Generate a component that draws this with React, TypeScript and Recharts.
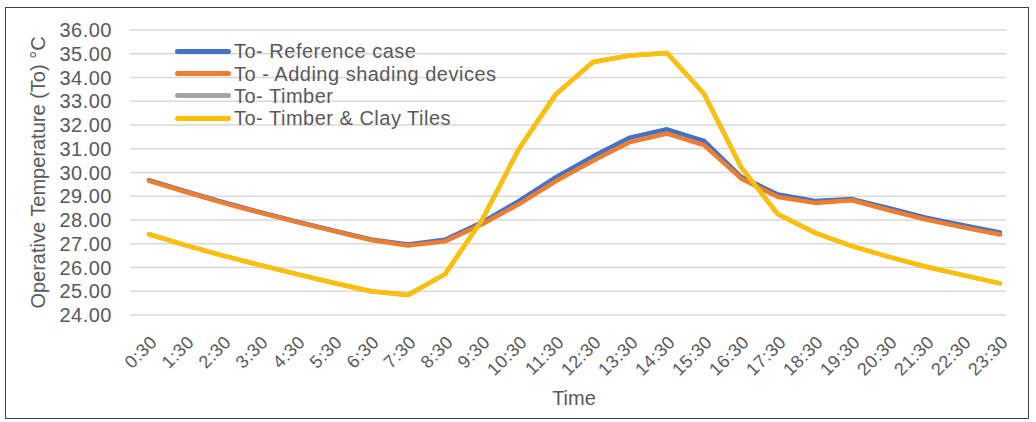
import { CartesianGrid, Line, LineChart, XAxis, YAxis } from "recharts";

const times = [
  "0:30", "1:30", "2:30", "3:30", "4:30", "5:30", "6:30", "7:30",
  "8:30", "9:30", "10:30", "11:30", "12:30", "13:30", "14:30", "15:30",
  "16:30", "17:30", "18:30", "19:30", "20:30", "21:30", "22:30", "23:30",
];

const referenceCase = [
  29.68, 29.2, 28.75, 28.33, 27.93, 27.55, 27.18, 26.97,
  27.17, 27.9, 28.8, 29.8, 30.68, 31.47, 31.82, 31.33,
  29.82, 29.07, 28.8, 28.88, 28.5, 28.1, 27.78, 27.48,
];

const shadingDevices = [
  29.65, 29.18, 28.72, 28.31, 27.91, 27.53, 27.16, 26.93,
  27.1, 27.82, 28.67, 29.64, 30.49, 31.28, 31.64, 31.15,
  29.75, 28.97, 28.72, 28.83, 28.41, 28.02, 27.69, 27.39,
];

const timber = [
  27.4, 26.93, 26.5, 26.1, 25.72, 25.35, 25.0, 24.84,
  25.72, 28.0, 31.0, 33.3, 34.65, 34.93, 35.03, 33.32,
  30.23, 28.24, 27.46, 26.9, 26.45, 26.03, 25.68, 25.33,
];

const timberClayTiles = [
  27.4, 26.93, 26.5, 26.1, 25.72, 25.35, 25.0, 24.84,
  25.72, 28.0, 31.0, 33.3, 34.65, 34.93, 35.03, 33.32,
  30.23, 28.24, 27.46, 26.9, 26.45, 26.03, 25.68, 25.33,
];

const yTicks = [24, 25, 26, 27, 28, 29, 30, 31, 32, 33, 34, 35, 36];

const series = [
  { key: "ref", name: "To- Reference case", color: "#4472C4" },
  { key: "shade", name: "To - Adding shading devices", color: "#ED7D31" },
  { key: "timber", name: "To- Timber", color: "#A5A5A5" },
  { key: "clay", name: "To- Timber & Clay Tiles", color: "#FFC000" },
];

const data = times.map((time, i) => ({
  time,
  ref: referenceCase[i],
  shade: shadingDevices[i],
  timber: timber[i],
  clay: timberClayTiles[i],
}));

const FONT = "'Liberation Sans', Arial, sans-serif";
const TEXT = "#595959";

function TimeTick({ x, y, payload }: any) {
  return (
    <g transform={`translate(${x + 5},${y + 16})`}>
      <text
        x={0}
        y={0}
        dy={6}
        textAnchor="end"
        transform="rotate(-45)"
        fill={TEXT}
        fontSize={18}
        fontFamily={FONT}
        letterSpacing={0.5}
      >
        {payload.value}
      </text>
    </g>
  );
}

// legend sits inside the plot, top-left, like the Excel original
function LegendBox() {
  return (
    <div
      style={{
        position: "absolute",
        left: 175,
        top: 40,
        fontFamily: FONT,
        fontSize: 20,
        letterSpacing: 0.5,
        color: TEXT,
      }}
    >
      {series.map((s) => (
        <div key={s.key} style={{ display: "flex", alignItems: "center", height: 22.4 }}>
          <span
            style={{
              display: "inline-block",
              width: 56,
              height: 5,
              borderRadius: 3,
              background: s.color,
              marginRight: 3,
            }}
          />
          <span style={{ lineHeight: "22px", whiteSpace: "nowrap" }}>{s.name}</span>
        </div>
      ))}
    </div>
  );
}

export default function App() {
  return (
    <div
      style={{
        position: "absolute",
        left: 0,
        top: 0,
        width: 1036,
        height: 422,
        background: "#fff",
      }}
    >
      <div
        style={{
          position: "absolute",
          left: 5,
          top: 7,
          width: 1024,
          height: 412,
          border: "1px solid #404040",
          boxSizing: "border-box",
        }}
      />
      <LineChart
        width={1036}
        height={422}
        data={data}
        margin={{ top: 30, right: 30, bottom: 0, left: 0 }}
        style={{ position: "absolute", left: 0, top: 0 }}
      >
        <CartesianGrid vertical={false} stroke="#d9d9d9" strokeWidth={1.3} />
        <XAxis
          dataKey="time"
          interval={0}
          height={107}
          padding={{ left: 19, right: 6 }}
          axisLine={false}
          tickLine={false}
          tick={<TimeTick />}
          label={{
            value: "Time",
            position: "insideBottom",
            offset: 17,
            dx: 6,
            fill: TEXT,
            fontSize: 20,
            fontFamily: FONT,
          }}
        />
        <YAxis
          width={130}
          domain={[24, 36]}
          ticks={yTicks}
          interval={0}
          axisLine={false}
          tickLine={false}
          tickSize={0}
          tickMargin={18}
          tickFormatter={(v: number) => v.toFixed(2)}
          tick={{ fill: TEXT, fontSize: 20, fontFamily: FONT, letterSpacing: 0.5 }}
          label={{
            value: "Operative Temperature (To) °C",
            angle: -90,
            position: "insideLeft",
            offset: 38,
            fill: TEXT,
            fontSize: 20,
            fontFamily: FONT,
            style: { textAnchor: "middle" },
          }}
        />
        {series.map((s) => (
          <Line
            key={s.key}
            type="linear"
            dataKey={s.key}
            name={s.name}
            stroke={s.color}
            strokeWidth={4.5}
            strokeLinecap="round"
            strokeLinejoin="round"
            dot={false}
            activeDot={false}
            isAnimationActive={false}
          />
        ))}
      </LineChart>
      <LegendBox />
    </div>
  );
}
